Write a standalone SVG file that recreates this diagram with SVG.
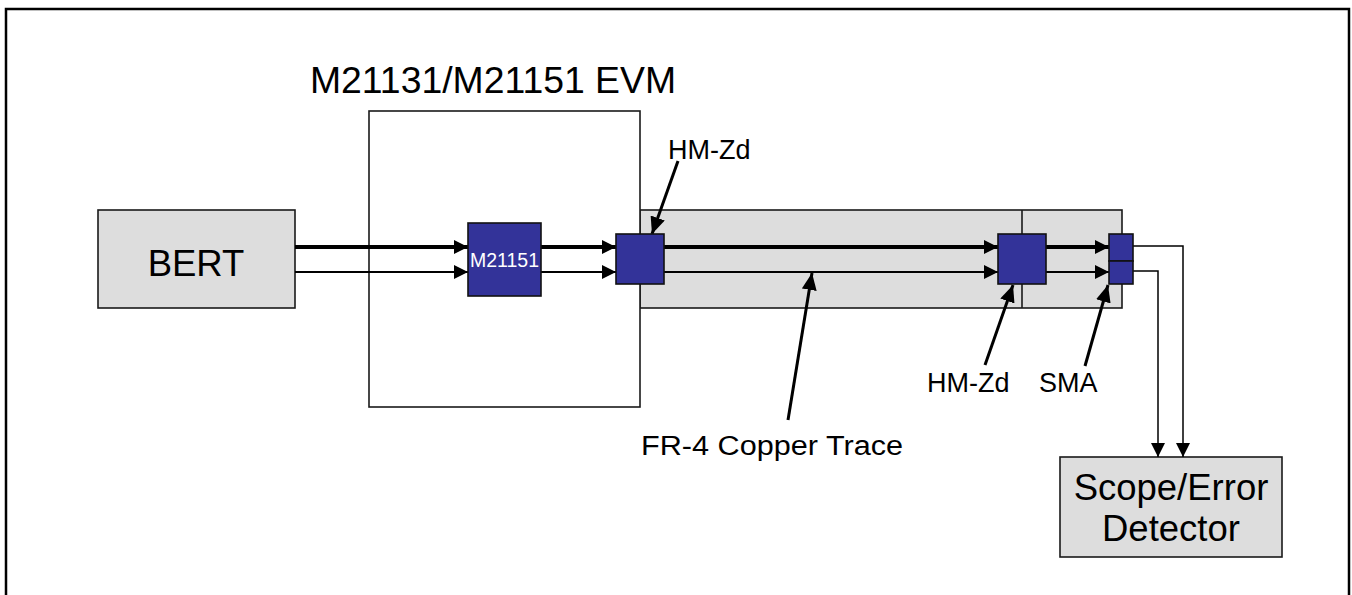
<svg xmlns="http://www.w3.org/2000/svg" width="1352" height="595" viewBox="0 0 1352 595">
<style>
.box{fill:#dddddd;stroke:#1a1a1a;stroke-width:1.6}
.wbox{fill:#ffffff;stroke:#1a1a1a;stroke-width:1.6}
.chip{fill:#333399;stroke:#111;stroke-width:1.6}
.big{font-family:"Liberation Sans",Arial,sans-serif;font-size:36.5px;fill:#000}
.lbl{font-family:"Liberation Sans",Arial,sans-serif;font-size:27px;fill:#000}
.thick{stroke:#000;stroke-width:4;fill:none}
.thin{stroke:#000;stroke-width:2;fill:none}
.hair{stroke:#000;stroke-width:1.5;fill:none}
.ptr{stroke:#000;stroke-width:3;fill:none}
</style>
<defs>
<marker id="ah" markerUnits="userSpaceOnUse" markerWidth="14" markerHeight="14" refX="14" refY="7" orient="auto"><path d="M0,0 L14,7 L0,14 z" fill="#000"/></marker>
<marker id="ap" markerUnits="userSpaceOnUse" markerWidth="17" markerHeight="15" refX="17" refY="7.5" orient="auto"><path d="M0,0 L17,7.5 L0,15 z" fill="#000"/></marker>
</defs>
<rect x="6" y="9" width="1343" height="600" fill="#fff" stroke="#000" stroke-width="2.5"/>
<g id="trace-board">
<rect class="box" x="640" y="210" width="482" height="98"/>
<line x1="1022" y1="210" x2="1022" y2="308" stroke="#1a1a1a" stroke-width="1.6"/>
</g>
<g id="evm">
<rect class="wbox" x="369" y="111" width="271" height="296"/>
<text class="big" x="310" y="93" textLength="366" lengthAdjust="spacingAndGlyphs">M21131/M21151 EVM</text>
</g>
<g id="bert">
<rect class="box" x="98" y="210" width="197" height="98"/>
<text class="big" x="196" y="276" text-anchor="middle">BERT</text>
</g>
<g id="scope">
<rect class="box" x="1060" y="457" width="222" height="100"/>
<text class="big" x="1171" y="500" text-anchor="middle">Scope/Error</text>
<text class="big" x="1171" y="541" text-anchor="middle">Detector</text>
</g>
<g id="connectors">
<line class="thick" x1="295" y1="247" x2="468" y2="247" marker-end="url(#ah)"/>
<line class="thin" x1="295" y1="272" x2="468" y2="272" marker-end="url(#ah)"/>
<line class="thick" x1="541" y1="247" x2="616" y2="247" marker-end="url(#ah)"/>
<line class="thin" x1="541" y1="272" x2="616" y2="272" marker-end="url(#ah)"/>
<line class="thick" x1="664" y1="247" x2="998" y2="247" marker-end="url(#ah)"/>
<line class="thin" x1="664" y1="272" x2="998" y2="272" marker-end="url(#ah)"/>
<line class="thick" x1="1046" y1="247" x2="1109" y2="247" marker-end="url(#ah)"/>
<line class="thin" x1="1046" y1="272" x2="1109" y2="272" marker-end="url(#ah)"/>
<polyline class="hair" points="1133,246 1183,246 1183,457" marker-end="url(#ah)"/>
<polyline class="hair" points="1133,271 1158,271 1158,457" marker-end="url(#ah)"/>
<line class="ptr" x1="678" y1="161" x2="652" y2="234" marker-end="url(#ap)"/>
<line class="ptr" x1="985" y1="365" x2="1013" y2="285" marker-end="url(#ap)"/>
<line class="ptr" x1="1085" y1="366" x2="1108" y2="285" marker-end="url(#ap)"/>
<line class="ptr" x1="788" y1="420" x2="812" y2="273" marker-end="url(#ap)"/>
</g>
<g id="m21151">
<rect class="chip" x="468" y="223" width="73" height="73"/>
<text x="504.5" y="267" text-anchor="middle" font-family="Liberation Sans,Arial,sans-serif" font-size="19.5" fill="#fff">M21151</text>
</g>
<g id="hmzd1">
<rect class="chip" x="616" y="234" width="48" height="50"/>
</g>
<g id="hmzd2">
<rect class="chip" x="998" y="234" width="48" height="50"/>
</g>
<g id="sma">
<rect class="chip" x="1109" y="234" width="24" height="27"/>
<rect class="chip" x="1109" y="261" width="24" height="23"/>
</g>
<g id="labels">
<text class="lbl" x="668" y="159">HM-Zd</text>
<text class="lbl" x="927" y="392">HM-Zd</text>
<text class="lbl" x="1039" y="392">SMA</text>
<text class="lbl" x="641" y="455" textLength="262" lengthAdjust="spacingAndGlyphs">FR-4 Copper Trace</text>
</g>
</svg>
